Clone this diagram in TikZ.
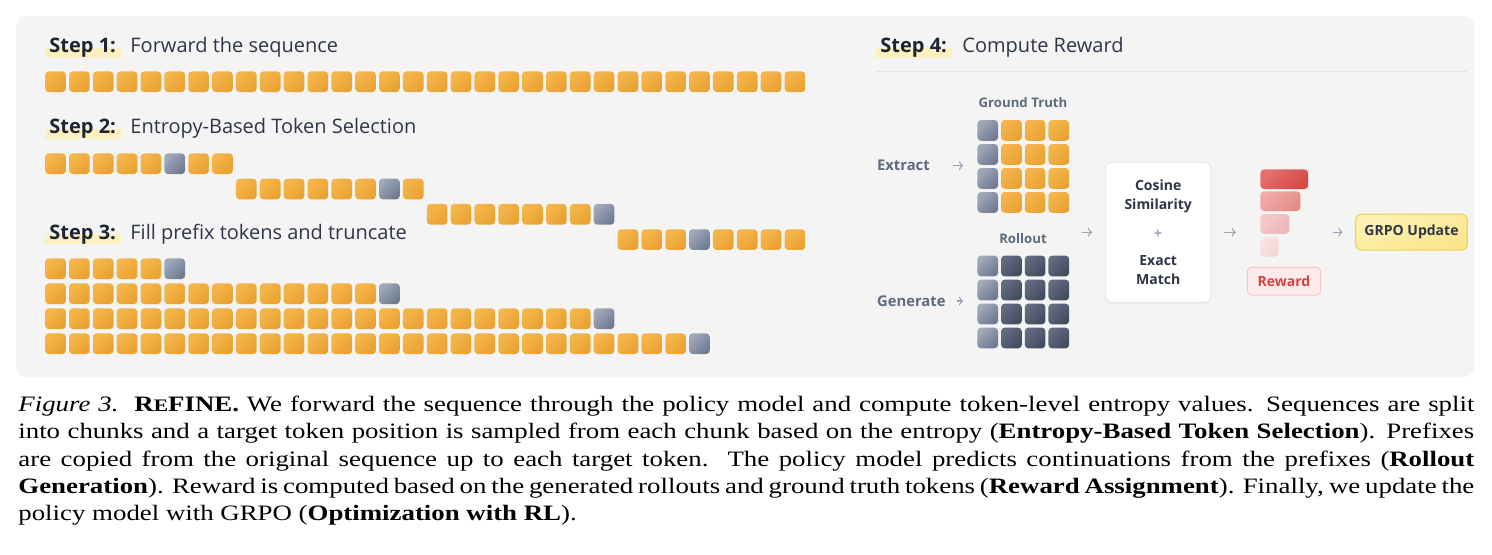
\documentclass[tikz,border=0pt]{standalone}
\usepackage{fontspec}
\setmainfont{Liberation Serif}
\newfontfamily\uifont{Open Sans}
\usepackage{xcolor}
\usepackage{graphicx}
\usepackage{tikz}
\usetikzlibrary{arrows.meta,positioning,fit,shadows}
\definecolor{panel}{HTML}{F4F4F4}
\definecolor{tokhi}{HTML}{F4B64C}
\definecolor{toklo}{HTML}{EAA131}
\definecolor{selhi}{HTML}{A0A9BA}
\definecolor{sello}{HTML}{6F7A8F}
\definecolor{drkhi}{HTML}{636C80}
\definecolor{drklo}{HTML}{434C5E}
\definecolor{ink}{HTML}{1E2532}
\definecolor{txt}{HTML}{2F3646}
\definecolor{mut}{HTML}{5F6A7E}
\definecolor{arr}{HTML}{9CA6BA}
\definecolor{hl}{HTML}{FCF0C0}
\definecolor{rulec}{HTML}{E2E4E8}
\definecolor{redtxt}{HTML}{D8423E}
\definecolor{bar1hi}{RGB}{229,112,110}
\definecolor{bar1lo}{RGB}{214,72,70}
\definecolor{bar2hi}{RGB}{240,170,168}
\definecolor{bar2lo}{RGB}{230,140,138}
\definecolor{bar3hi}{RGB}{246,200,200}
\definecolor{bar3lo}{RGB}{240,182,182}
\definecolor{bar4hi}{RGB}{250,226,226}
\definecolor{bar4lo}{RGB}{246,212,212}
\definecolor{rwdfill}{RGB}{253,235,235}
\definecolor{rwdline}{RGB}{247,198,198}
\definecolor{updhi}{RGB}{253,242,180}
\definecolor{updlo}{RGB}{251,229,140}
\definecolor{updline}{RGB}{241,211,92}

\begin{document}
\begin{tikzpicture}[x=0.5pt, y=-0.5pt,
  tok/.style={minimum size=10.35pt, inner sep=0, rounded corners=1.8pt,
    top color=tokhi, bottom color=toklo, shading angle=45},
  gtok/.style={tok, top color=selhi, bottom color=sello, shading angle=45},
  dtok/.style={tok, top color=drkhi, bottom color=drklo, shading angle=45},
  stepno/.style={anchor=base west, inner sep=0, text=ink, font=\uifont\bfseries\fontsize{10}{12}\selectfont},
  steptxt/.style={anchor=base west, inner sep=0, text=txt, font=\uifont\fontsize{10}{12}\selectfont},
  small/.style={inner sep=0, text=mut, font=\uifont\bfseries\fontsize{6.6}{8}\selectfont},
  side/.style={inner sep=0, anchor=west, text=mut, font=\uifont\bfseries\fontsize{7.4}{9}\selectfont},
  flow/.style={-{To[length=2.2pt,width=4.4pt]}, arr, line width=0.55pt},
  bar/.style={anchor=west, minimum height=9.8pt, inner sep=0, rounded corners=1.8pt, shading angle=45},
  box/.style={inner sep=0, rounded corners=3pt, align=center, font=\uifont\bfseries\fontsize{7}{9.65}\selectfont}]
  \useasboundingbox (0,0) rectangle (1492,554);
  % panel
  \fill[panel, rounded corners=5pt] (16,16) rectangle (1474,377);

  % step titles
  \fill[hl] (45,48) rectangle (121,58);
  \fill[hl] (45,128.5) rectangle (121,139);
  \fill[hl] (45,234) rectangle (121,244);
  \fill[hl] (876,48) rectangle (952,58);
  \node[stepno] (s1) at (49,52) {Step 1:};
  \node[steptxt] (s1t) at (130,52) {Forward the sequence};
  \node[stepno] (s2) at (49,133) {Step 2:};
  \node[steptxt] (s2t) at (130,133) {Entropy-Based Token Selection};
  \node[stepno] (s3) at (49,239) {Step 3:};
  \node[steptxt] (s3t) at (130,239) {Fill prefix tokens and truncate};
  \node[stepno] (s4) at (880,52) {Step 4:};
  \node[steptxt] (s4t) at (962,52) {Compute Reward};
  \draw[rulec, line width=0.6pt] (876,71.7) -- (1467,71.7);

  % step 1: the full sequence
  \foreach \i in {0,...,31}
    \node[tok] (a\i) at ({55.5+23.85*\i}, 81.7) {};

  % step 2: chunks of 8, one selected token each
  \foreach \r/\g in {0/5,1/6,2/7,3/3}
    \foreach \j in {0,...,7}{
      \ifnum\j=\g \def\tk{gtok}\else\def\tk{tok}\fi
      \node[\tk] (b\r-\j) at ({55.5+23.85*(8*\r+\j)}, {163.7+25.3*\r}) {};
    }

  % step 3: prefixes up to each target
  \foreach \r/\n in {0/5,1/14,2/23,3/27}
    \foreach \j in {0,...,\n}{
      \ifnum\j=\n \def\tk{gtok}\else\def\tk{tok}\fi
      \node[\tk] (c\r-\j) at ({55.5+23.85*\j}, {268.7+25*\r}) {};
    }

  % step 4: ground truth and rollout grids
  \node[small] (gtl) at (1023,102.7) {Ground Truth};
  \node[small] (rol) at (1023,238.3) {Rollout};
  \foreach \i in {0,...,3}
    \foreach \j in {0,...,3}{
      \ifnum\j=0 \def\tk{gtok}\def\rk{gtok}\else\def\tk{tok}\def\rk{dtok}\fi
      \node[\tk] (g\i-\j) at ({987.7+23.7*\j}, {130.4+24*\i}) {};
      \node[\rk] (o\i-\j) at ({987.7+23.7*\j}, {266+24*\i}) {};
    }
  \node[fit=(g0-0)(g3-3), inner sep=0] (gt) {};
  \node[fit=(o0-0)(o3-3), inner sep=0] (ro) {};
  \node[fit=(gt)(ro), inner sep=0] (grids) {};

  \node[side] (ext) at (876.7,165.7) {Extract};
  \node[side] (gen) at (876.7,301) {Generate};
  \draw[flow, shorten <=11.5pt, shorten >=6.6pt] (ext.east) -- (ext.east -| gt.west);
  \draw[flow, shorten <=5.5pt, shorten >=6.6pt] (gen.east) -- (gen.east -| ro.west);

  % scoring
  \node[box, fill=white, draw=rulec, line width=0.4pt, text=txt,
    minimum width=52.5pt, minimum height=70pt,
    drop shadow={opacity=0.06, shadow xshift=0pt, shadow yshift=-1pt}] (cos) at (1158.2,232.3)
    {Cosine\\Similarity\\[4.5pt]{\color{arr}+}\\[4pt]Exact\\Match};
  \draw[flow, shorten <=5.8pt, shorten >=6.5pt] (grids.east |- cos.west) -- (cos.west);

  % reward bars
  \node[bar, minimum width=23.85pt, top color=bar1hi, bottom color=bar1lo, shading angle=45] (bar1) at (1260,179.2) {};
  \node[bar, minimum width=20pt, top color=bar2hi, bottom color=bar2lo, shading angle=45] (bar2) at (1260,201.2) {};
  \node[bar, minimum width=14.5pt, top color=bar3hi, bottom color=bar3lo, shading angle=45] (bar3) at (1260,224) {};
  \node[bar, minimum width=9.15pt, top color=bar4hi, bottom color=bar4lo, shading angle=45] (bar4) at (1260,246.7) {};
  \node[box, fill=rwdfill, draw=rwdline, line width=0.5pt,
    text=redtxt, rounded corners=2pt, minimum width=36.7pt, minimum height=13.9pt] (rwd) at (1284,281.2) {Reward};
  \draw[flow, shorten <=6.6pt, shorten >=12pt] (cos.east) -- (cos.east -| bar1.west);

  % update
  \node[box, top color=updhi, bottom color=updlo, shading angle=20,
    draw=updline, line width=0.6pt, text=txt, rounded corners=3pt,
    minimum width=55.8pt, minimum height=17.9pt] (grpo) at (1411.5,232.2) {GRPO Update};
  \draw[flow, shorten <=12pt, shorten >=6.2pt] (bar1.east |- grpo.west) -- (grpo.west);

  % caption
  \node[anchor=base west, inner sep=0, font=\fontsize{11}{13.6}\selectfont] (cap) at (18,411.7)
    {\scalebox{1.22}[1]{\begin{minipage}[t]{596.7pt}\hyphenpenalty=10000
    \textit{Figure 3.}\ \ \textbf{R{\fontsize{8.8}{10}\selectfont E}FINE.} We forward the sequence through the policy model and compute token-level entropy values. Sequences are split\linebreak
    into chunks and a target token position is sampled from each chunk based on the entropy (\textbf{Entropy-Based Token Selection}). Prefixes\linebreak
    are copied from the original sequence up to each target token.\ \ The policy model predicts continuations from the prefixes (\textbf{Rollout\linebreak
    Generation}). Reward is computed based on the generated rollouts and ground truth tokens (\textbf{Reward Assignment}). Finally, we update the\linebreak
    policy model with GRPO (\textbf{Optimization with RL}).\end{minipage}}};
\end{tikzpicture}
\end{document}
